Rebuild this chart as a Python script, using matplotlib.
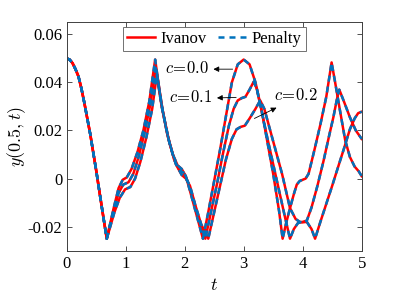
import numpy as np
import matplotlib
matplotlib.use("Agg")
import matplotlib.pyplot as plt

plt.rcParams['font.family'] = ['Liberation Serif', 'DejaVu Serif']
plt.rcParams['mathtext.fontset'] = 'cm'

# values, y(0.5,t) for three values of c
t_c00 = [0.0, 0.05, 0.1, 0.15, 0.2, 0.25, 0.3, 0.35, 0.4, 0.5, 0.6, 0.68,
         0.80, 0.88, 0.95, 1.02, 1.10, 1.20, 1.30, 1.40, 1.50,
         1.60, 1.70, 1.80, 1.88, 1.95, 2.02, 2.10, 2.20, 2.31,
         2.40, 2.50, 2.60, 2.70, 2.80, 2.90, 3.00, 3.10, 3.20, 3.30, 3.40, 3.50, 3.60, 3.66,
         3.72, 3.785, 3.85, 3.90, 3.95, 4.00, 4.05, 4.10, 4.20, 4.30, 4.40, 4.49,
         4.55, 4.62, 4.72, 4.80, 4.88, 4.95, 5.0]
y_c00 = [0.050, 0.0495, 0.048, 0.0455, 0.0425, 0.0375, 0.0315, 0.025, 0.0185, 0.0035, -0.0125, -0.025,
         -0.012, -0.004, -0.0005, 0.0005, 0.004, 0.011, 0.020, 0.032, 0.0495,
         0.032, 0.019, 0.010, 0.0055, 0.004, 0.001, -0.006, -0.015, -0.025,
         -0.014, -0.001, 0.012, 0.026, 0.040, 0.0475, 0.0495, 0.0475, 0.040, 0.029, 0.0155, 0.002, -0.0135, -0.025,
         -0.0185, -0.0123, -0.0065, -0.0025, -0.001, -0.0005, 0.0, 0.002, 0.012, 0.0225, 0.034, 0.0483,
         0.040, 0.030, 0.016, 0.009, 0.005, 0.003, 0.001]

t_c01 = [0.0, 0.05, 0.1, 0.15, 0.2, 0.25, 0.3, 0.35, 0.4, 0.5, 0.6, 0.68,
         0.80, 0.88, 0.96, 1.05, 1.13, 1.22, 1.32, 1.42, 1.51,
         1.61, 1.72, 1.82, 1.91, 1.98, 2.05, 2.14, 2.24, 2.35,
         2.45, 2.55, 2.65, 2.75, 2.83, 2.90, 2.97, 3.03, 3.10, 3.17, 3.22, 3.30, 3.40, 3.50, 3.60, 3.70, 3.785,
         3.85, 3.92, 4.00, 4.07, 4.15, 4.25, 4.35, 4.45, 4.52, 4.58, 4.62,
         4.70, 4.80, 4.90, 5.0]
y_c01 = [0.050, 0.0495, 0.048, 0.0455, 0.0425, 0.0375, 0.0315, 0.025, 0.0185, 0.0035, -0.0125, -0.025,
         -0.013, -0.006, -0.0025, -0.0015, 0.002, 0.009, 0.019, 0.031, 0.046,
         0.030, 0.017, 0.008, 0.0035, 0.0025, -0.001, -0.008, -0.017, -0.025,
         -0.0135, -0.002, 0.0105, 0.022, 0.029, 0.0325, 0.0335, 0.034, 0.037, 0.0403, 0.0375, 0.0285, 0.017, 0.006, -0.005, -0.016, -0.025,
         -0.021, -0.0185, -0.018, -0.0175, -0.012, -0.003, 0.007, 0.018, 0.0255, 0.033, 0.037,
         0.032, 0.0255, 0.020, 0.0165]

t_c02 = [0.0, 0.05, 0.1, 0.15, 0.2, 0.25, 0.3, 0.35, 0.4, 0.5, 0.6, 0.68,
         0.81, 0.90, 0.99, 1.08, 1.16, 1.25, 1.35, 1.45, 1.53,
         1.63, 1.74, 1.85, 1.95, 2.02, 2.09, 2.18, 2.28, 2.40,
         2.50, 2.60, 2.70, 2.80, 2.88, 2.95, 3.02, 3.10, 3.20, 3.28, 3.35, 3.45, 3.55, 3.65, 3.785,
         3.88, 3.95, 4.00, 4.07, 4.15, 4.21,
         4.30, 4.40, 4.50, 4.60, 4.70, 4.80, 4.88, 4.94, 5.0]
y_c02 = [0.050, 0.0495, 0.048, 0.0455, 0.0425, 0.0375, 0.0315, 0.025, 0.0185, 0.0035, -0.0125, -0.025,
         -0.014, -0.008, -0.0045, -0.0035, 0.0, 0.007, 0.017, 0.029, 0.0435,
         0.028, 0.015, 0.006, 0.0015, 0.0, -0.003, -0.011, -0.019, -0.025,
         -0.014, -0.003, 0.008, 0.0165, 0.0205, 0.0215, 0.022, 0.025, 0.029, 0.0325, 0.029, 0.020, 0.011, 0.002, -0.0123,
         -0.0168, -0.018, -0.0182, -0.018, -0.021, -0.025,
         -0.018, -0.0105, -0.003, 0.0048, 0.0125, 0.0205, 0.025, 0.0272, 0.0278]

# the two methods agree to plotting accuracy
ivanov = [(t_c00, y_c00), (t_c01, y_c01), (t_c02, y_c02)]
penalty = [(t_c00, y_c00), (t_c01, y_c01), (t_c02, y_c02)]

c_labels = [r'$c\!=\!0.0$', r'$c\!=\!0.1$', r'$c\!=\!0.2$']
xticks = [0, 1, 2, 3, 4, 5]
yticks = [-0.02, 0, 0.02, 0.04, 0.06]
ytick_labels = ['-0.02', '0', '0.02', '0.04', '0.06']

fig = plt.figure(figsize=(3.99, 2.99), dpi=100)
ax = fig.add_axes([0.167, 0.1615, 0.7395, 0.764])

for i, (t, y) in enumerate(ivanov):
    ax.plot(t, y, color='red', lw=1.8, label='Ivanov' if i == 0 else None)
for i, (t, y) in enumerate(penalty):
    ax.plot(t, y, color='#0072BD', lw=1.8, linestyle=(0, (2.4, 2.0)),
            label='Penalty' if i == 0 else None)

ax.set_xlim(0, 5)
ax.set_ylim(-0.03, 0.065)
ax.set_xticks(xticks)
ax.set_yticks(yticks)
ax.set_yticklabels(ytick_labels)
ax.tick_params(direction='in', top=True, right=True, length=3.5, width=0.6,
               labelsize=12, color='0.2')
ax.tick_params(axis='x', pad=3.5)
ax.tick_params(axis='y', pad=3)
for s in ax.spines.values():
    s.set_color('0.25')
    s.set_linewidth(0.7)

ax.set_xlabel('$t$', fontsize=13)
ax.set_ylabel('$y(0.5,t)$', fontsize=13)
ax.xaxis.set_label_coords(0.5, -0.115)
ax.yaxis.set_label_coords(-0.13, 0.5)

# labels with arrows pointing to the text
arrow = dict(arrowstyle='-|>', color='black', lw=0.6, mutation_scale=8)
ax.annotate('', xy=(2.44, 0.0455), xytext=(2.86, 0.0455), arrowprops=arrow)
ax.text(2.40, 0.0455, c_labels[0], fontsize=12, ha='right', va='center')
ax.annotate('', xy=(2.50, 0.0335), xytext=(2.92, 0.0338), arrowprops=arrow)
ax.text(2.46, 0.0335, c_labels[1], fontsize=12, ha='right', va='center')
ax.annotate('', xy=(3.60, 0.0300), xytext=(3.14, 0.0245), arrowprops=arrow)
ax.text(3.52, 0.0342, c_labels[2], fontsize=12, ha='left', va='center')

leg = ax.legend(loc='upper center', bbox_to_anchor=(0.5, 0.981), ncol=2,
                fontsize=12, frameon=True, fancybox=False, borderaxespad=0,
                borderpad=0.25, handlelength=1.7, handletextpad=0.3,
                columnspacing=0.7)
leg.get_frame().set_edgecolor('0.3')
leg.get_frame().set_linewidth(0.7)

fig.savefig('out.png', dpi=100)
